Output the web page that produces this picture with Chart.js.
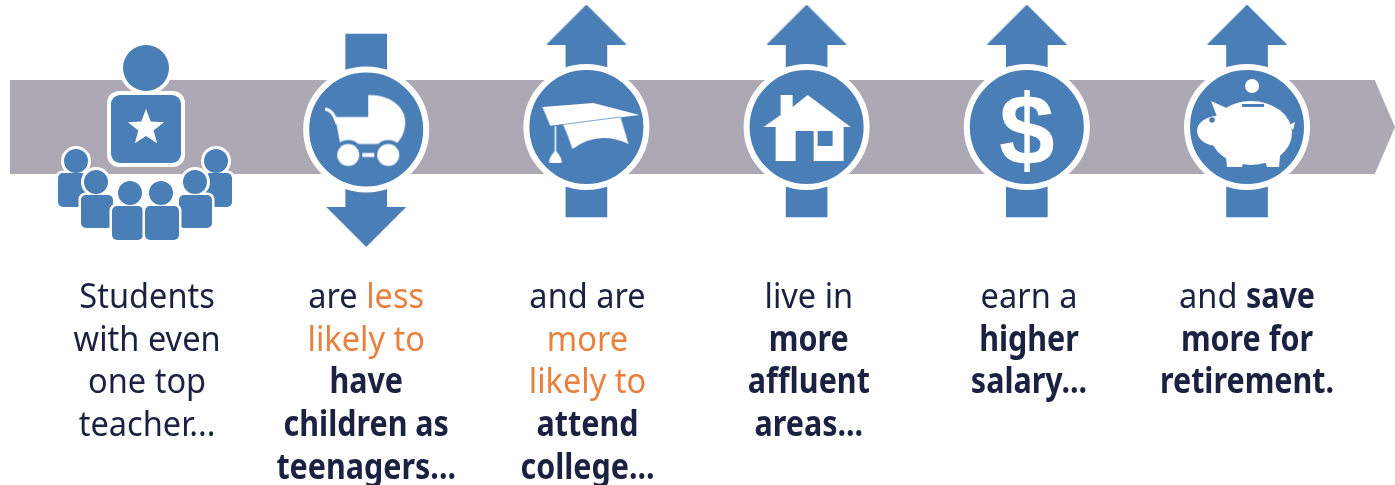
<!DOCTYPE html>
<html>
<head>
<meta charset="utf-8">
<style>
  html, body { margin: 0; padding: 0; background: #fff; }
  canvas { display: block; }
</style>
<script src="https://cdn.jsdelivr.net/npm/chart.js@4/dist/chart.umd.js"></script>
</head>
<body>
<canvas id="chartTeacher" width="1395" height="485"></canvas>
<script>
// one column per step, x is the step number, y is height above the middle of the band
const steps = [0, 1, 2, 3, 4, 5];
const bandX = [-0.618, 5.58, 5.672, 5.58, -0.618];
const bandY = [47, 47, 0, -47, -47];
const arrowSteps = [1, 2, 3, 4, 5];
const arrowFrom = [93, -90, -90, -90, -90];
const arrowTo = [-80, 83, 83, 83, 83];
const headY = [-100, 102.5, 102.5, 102.5, 102.5];
const circleY = [-2.5, 0, 0, 0, 0];
const iconY = [0, -2.5, 0, 0, 0, 0];

// ~ orange, * bold
const stepLines = [
  ['Students', 'with even', 'one top', 'teacher...'],
  [['are ', '~less'], ['~likely to'], ['*have'], ['*children as'], ['*teenagers...']],
  ['and are', ['~more'], ['~likely to'], ['*attend'], ['*college...']],
  ['live in', ['*more'], ['*affluent'], ['*areas...']],
  ['earn a', ['*higher'], ['*salary...']],
  [['and ', '*save'], ['*more for'], ['*retirement.']]
];
const textX = [0.005, 0, 0.005, 0.01, 0.01, 0];
const textRows = [-181, -223.5, -266, -309, -352];

const BLUE = '#4a7eb6';
const GREY = '#aca8b4';
const DARK = '#1b2140';
const ORANGE = '#e8813f';
const FONT = '"Noto Sans", sans-serif';
const REGULAR_SQUEEZE = 0.93;
const BOLD_SQUEEZE = 0.87;

function makeIcon(w, h, draw) {
  const c = document.createElement('canvas');
  c.width = w;
  c.height = h;
  const g = c.getContext('2d');
  g.translate(w / 2, h / 2);
  g.fillStyle = '#fff';
  g.strokeStyle = '#fff';
  g.lineJoin = 'round';
  draw(g);
  return c;
}

function poly(g, pts) {
  g.beginPath();
  pts.forEach((p, i) => i ? g.lineTo(p[0], p[1]) : g.moveTo(p[0], p[1]));
  g.closePath();
  g.fill();
}

function disc(g, x, y, r) {
  g.beginPath();
  g.arc(x, y, r, 0, Math.PI * 2);
  g.fill();
}

function box(g, x, y, w, h, r) {
  g.beginPath();
  g.roundRect(x, y, w, h, r);
  g.fill();
}

function pupil(g, hx, hy, bx, by, bw, bh) {
  g.fillStyle = '#fff';
  box(g, bx - 2.5, by - 2.5, bw + 5, bh + 5, 7);
  disc(g, hx, hy, 15);
  g.fillStyle = BLUE;
  box(g, bx, by, bw, bh, 5);
  disc(g, hx, hy, 12);
}

const headUp = makeIcon(82, 40, g => {
  g.fillStyle = BLUE;
  poly(g, [[0, -20], [40, 20], [-40, 20]]);
});
const headDown = makeIcon(82, 40, g => {
  g.fillStyle = BLUE;
  poly(g, [[0, 20], [40, -20], [-40, -20]]);
});

// all icon drawings are relative to the centre of their circle
const teacherIcon = makeIcon(200, 250, g => {
  const ox = -147, oy = -127;
  g.translate(ox, oy);
  pupil(g, 77, 161, 59, 173, 28, 34);
  pupil(g, 217, 161, 206, 173, 27, 34);
  pupil(g, 97, 182, 82, 195, 32, 33);
  pupil(g, 196, 182, 180, 195, 33, 33);
  pupil(g, 131, 193, 113, 206, 31, 34);
  pupil(g, 162, 193, 146, 206, 34, 34);
  g.fillStyle = '#fff';
  box(g, 108, 91, 78, 76, 12);
  disc(g, 147, 68, 27);
  g.fillStyle = BLUE;
  box(g, 112, 95, 70, 68, 9);
  disc(g, 147, 68, 23);
  g.fillStyle = '#fff';
  const star = [];
  for (let i = 0; i < 10; i++) {
    const r = i % 2 ? 8 : 19;
    const a = -Math.PI / 2 + i * Math.PI / 5;
    star.push([147 + r * Math.cos(a), 128 + r * Math.sin(a)]);
  }
  poly(g, star);
});

const pramIcon = makeIcon(120, 120, g => {
  g.translate(-366, -129.5);
  g.beginPath();
  g.moveTo(368, 95);
  g.bezierCurveTo(392, 95, 405, 108, 405, 122);
  g.bezierCurveTo(405, 132, 401, 139, 396, 144);
  g.lineTo(340, 144);
  g.lineTo(335, 117);
  g.lineTo(368, 117);
  g.closePath();
  g.fill();
  g.lineWidth = 3;
  g.beginPath();
  g.moveTo(325, 109);
  g.quadraticCurveTo(333, 110, 337, 124);
  g.stroke();
  g.fillStyle = BLUE;
  disc(g, 348, 155, 15);
  disc(g, 388, 155, 15);
  g.fillStyle = '#fff';
  disc(g, 348, 155, 11);
  disc(g, 388, 155, 11);
  g.fillRect(362, 153, 12, 4);
});

const capIcon = makeIcon(120, 120, g => {
  g.translate(-586, -127);
  g.beginPath();
  g.moveTo(562, 123);
  g.quadraticCurveTo(568, 136, 572, 149);
  g.quadraticCurveTo(598, 130, 628, 144);
  g.quadraticCurveTo(624, 130, 620, 117);
  g.closePath();
  g.fill();
  poly(g, [[542, 107], [593, 103], [639, 115], [550, 126]]);
  g.lineWidth = 1.5;
  g.beginPath();
  g.moveTo(555, 126);
  g.lineTo(555, 152);
  g.stroke();
  g.beginPath();
  g.moveTo(555, 150);
  g.quadraticCurveTo(563, 160, 561, 163);
  g.lineTo(549, 163);
  g.quadraticCurveTo(547, 160, 555, 150);
  g.fill();
  g.strokeStyle = BLUE;
  g.lineWidth = 0.7;
  g.beginPath();
  g.moveTo(551, 126);
  g.lineTo(620, 117);
  g.stroke();
});

const houseIcon = makeIcon(120, 120, g => {
  g.translate(-806, -127);
  poly(g, [[780, 95], [792, 95], [792, 107], [807, 95], [850, 127], [843, 127], [843, 161], [775, 161], [775, 127], [763, 127], [780, 115]]);
  g.fillStyle = BLUE;
  g.fillRect(795, 131, 18, 30);
  g.fillRect(817, 131, 15, 15);
});

const pigIcon = makeIcon(120, 120, g => {
  g.translate(-1248, -127);
  disc(g, 1253, 86, 7);
  g.beginPath();
  g.ellipse(1252, 133, 41, 32, 0, 0, Math.PI * 2);
  g.fill();
  // ear
  poly(g, [[1212, 101], [1232, 110], [1220, 122]]);
  // head and snout
  g.beginPath();
  g.ellipse(1218, 131, 20, 15, 0, 0, Math.PI * 2);
  g.fill();
  // legs
  poly(g, [[1226, 150], [1245, 155], [1243, 167], [1228, 167]]);
  poly(g, [[1264, 155], [1282, 145], [1280, 167], [1268, 167]]);
  // tail
  poly(g, [[1290, 125], [1296, 122], [1294, 130]]);
  g.fillStyle = BLUE;
  g.fillRect(1243, 104, 22, 3);
  disc(g, 1213, 120, 2.8);
});

const iconStyles = [teacherIcon, pramIcon, capIcon, houseIcon, null, pigIcon];

// text goes through the same scales as the marks
const stepTextPlugin = {
  id: 'stepText',
  afterDraw(chart) {
    const { ctx, scales: { x, y } } = chart;
    ctx.save();
    ctx.textBaseline = 'alphabetic';
    ctx.textAlign = 'left';
    stepLines.forEach((lines, s) => {
      lines.forEach((line, r) => {
        const runs = (Array.isArray(line) ? line : [line]).map(t => {
          const m = t[0];
          const text = m === '~' || m === '*' ? t.slice(1) : t;
          const font = (m === '*' ? '700 ' : '400 ') + '35px ' + FONT;
          const squeeze = m === '*' ? BOLD_SQUEEZE : REGULAR_SQUEEZE;
          ctx.font = font;
          return { text, font, squeeze, color: m === '~' ? ORANGE : DARK, w: ctx.measureText(text).width * squeeze };
        });
        const total = runs.reduce((a, b) => a + b.w, 0);
        let px = x.getPixelForValue(steps[s] + textX[s]) - total / 2;
        const py = y.getPixelForValue(textRows[r]);
        runs.forEach(run => {
          ctx.save();
          ctx.translate(px, py);
          ctx.scale(run.squeeze, 1);
          ctx.font = run.font;
          ctx.fillStyle = run.color;
          ctx.fillText(run.text, 0, 0);
          ctx.restore();
          px += run.w;
        });
      });
    });
    ctx.font = '700 100px "Liberation Sans", sans-serif';
    ctx.fillStyle = '#fff';
    ctx.textAlign = 'center';
    ctx.fillText('$', x.getPixelForValue(steps[4]), y.getPixelForValue(-38));
    ctx.restore();
  }
};

const ctx = document.getElementById('chartTeacher').getContext('2d');
new Chart(ctx, {
  type: 'scatter',
  data: {
    datasets: [
      {
        type: 'line',
        data: bandX.map((v, i) => ({ x: v, y: bandY[i] })),
        backgroundColor: GREY,
        borderWidth: 0,
        pointRadius: 0,
        tension: 0,
        fill: 'shape',
        order: 5
      },
      {
        type: 'bar',
        data: arrowSteps.map((s, i) => ({ x: s, y: [arrowFrom[i], arrowTo[i]] })),
        backgroundColor: BLUE,
        barThickness: 41,
        order: 4
      },
      {
        data: arrowSteps.map((s, i) => ({ x: s, y: headY[i] })),
        pointStyle: arrowSteps.map(s => s === 1 ? headDown : headUp),
        pointRadius: 10,
        order: 3
      },
      {
        data: arrowSteps.map((s, i) => ({ x: s, y: circleY[i] })),
        pointStyle: 'circle',
        pointRadius: 60,
        pointBorderWidth: 6,
        backgroundColor: BLUE,
        borderColor: '#fff',
        order: 2
      },
      {
        data: steps.map((s, i) => ({ x: s, y: iconY[i] })).filter((p, i) => iconStyles[i]),
        pointStyle: iconStyles.filter(Boolean),
        pointRadius: 10,
        order: 1
      }
    ]
  },
  options: {
    responsive: false,
    animation: false,
    events: [],
    layout: { padding: 0, autoPadding: false },
    scales: {
      x: { type: 'linear', display: false, min: -0.663, max: 5.672, offset: false },
      y: { type: 'linear', display: false, min: -358, max: 127 }
    },
    plugins: {
      legend: { display: false },
      title: { display: false },
      tooltip: { enabled: false }
    }
  },
  plugins: [stepTextPlugin]
});
</script>
</body>
</html>
